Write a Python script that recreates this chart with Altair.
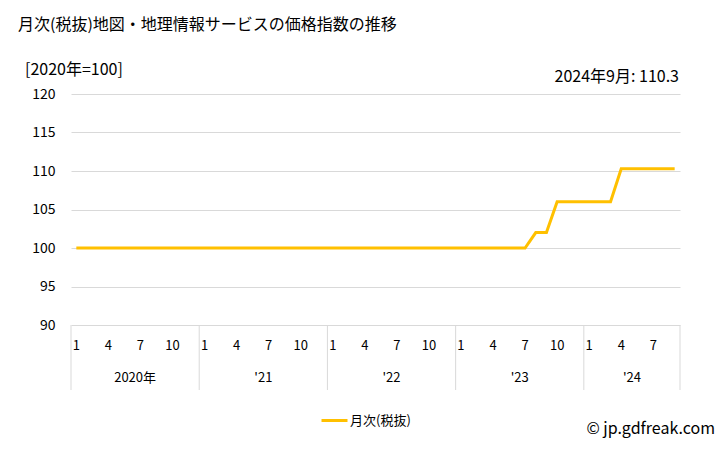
import altair as alt
import pandas as pd

# ---- data ----
years = [2020, 2021, 2022, 2023, 2024]
year_labels = ["2020年", "'21", "'22", "'23", "'24"]
v2020 = [100, 100, 100, 100, 100, 100, 100, 100, 100, 100, 100, 100]
v2021 = [100, 100, 100, 100, 100, 100, 100, 100, 100, 100, 100, 100]
v2022 = [100, 100, 100, 100, 100, 100, 100, 100, 100, 100, 100, 100]
v2023 = [100, 100, 100, 100, 100, 100, 100, 102, 102, 106, 106, 106]
v2024 = [106, 106, 106, 110.3, 110.3, 110.3, 110.3, 110.3, 110.3]
shown_months = [1, 4, 7, 10]
series_name = "月次(税抜)"
title_text = "月次(税抜)地図・地理情報サービスの価格指数の推移"
unit_text = "[2020年=100]"
latest_text = "2024年9月: 110.3"
credit_text = "© jp.gdfreak.com"

FONT = "Noto Sans CJK JP"
COLOR = "#FFC000"

rows = []
idx = 0
year_rows = []
for y, lab, vals in zip(years, year_labels, [v2020, v2021, v2022, v2023, v2024]):
    start = idx
    for m, v in enumerate(vals):
        rows.append({"pos": idx + 0.5, "value": v, "year": y, "month": m + 1,
                     "mlabel": str(m + 1), "series": series_name})
        idx += 1
    year_rows.append({"center": (start + idx) / 2, "label": lab, "start": start, "end": idx})
df = pd.DataFrame(rows)
mdf = df[df["month"].isin(shown_months)].reset_index(drop=True)
ydf = pd.DataFrame(year_rows)
seps = pd.DataFrame({"x": [r["start"] for r in year_rows] + [year_rows[-1]["end"]]})
total = idx

W, H = 609, 231
xscale = alt.Scale(domain=[0, total], nice=False, zero=False)

line = alt.Chart(df).mark_line(strokeWidth=3).encode(
    x=alt.X("pos:Q", scale=xscale, axis=None),
    y=alt.Y("value:Q", scale=alt.Scale(domain=[90, 120], nice=False, zero=False),
            axis=alt.Axis(values=[90, 95, 100, 105, 110, 115, 120], title=None, domain=False,
                          ticks=False, gridColor="#d9d9d9", labelPadding=16, labelFontSize=14,
                          labelFont=FONT, labelColor="#000")),
    color=alt.Color("series:N", scale=alt.Scale(domain=[series_name], range=[COLOR]),
                    legend=alt.Legend(title=None, orient="none", legendX=249, legendY=312,
                                      symbolType="stroke", symbolSize=676, symbolStrokeWidth=3,
                                      labelFont=FONT, labelFontSize=13, labelColor="#000",
                                      labelOffset=1)),
)

sep = alt.Chart(seps).mark_rule(color="#d9d9d9", strokeWidth=1).encode(
    x=alt.X("x:Q", scale=xscale, axis=None), y=alt.value(H), y2=alt.value(H + 65)
)

month_text = alt.Chart(mdf).mark_text(font=FONT, fontSize=13, color="#000").encode(
    x=alt.X("pos:Q", scale=xscale, axis=None), y=alt.value(H + 21), text="mlabel:N"
)

year_text = alt.Chart(ydf).mark_text(font=FONT, fontSize=13, color="#000").encode(
    x=alt.X("center:Q", scale=xscale, axis=None), y=alt.value(H + 53), text="label:N"
)

def label(txt, x, y, size, align="left"):
    return alt.Chart(pd.DataFrame({"t": [txt]})).mark_text(
        font=FONT, fontSize=size, color="#000", align=align, baseline="middle"
    ).encode(x=alt.value(x), y=alt.value(y), text="t:N")

chart = alt.layer(
    line, sep, month_text, year_text,
    label(title_text, -53, -69, 16),
    label(unit_text, -46, -24, 16),
    label(latest_text, 608, -17, 16, "right"),
    label(credit_text, 644, 335, 16, "right"),
).properties(
    width=W, height=H,
    autosize=alt.AutoSizeParams(type="none"),
    padding={"left": 63, "top": 86, "right": 40, "bottom": 116},
).configure_view(stroke=None)

chart.save("out.html", embed_options={"renderer": "svg", "actions": False})
